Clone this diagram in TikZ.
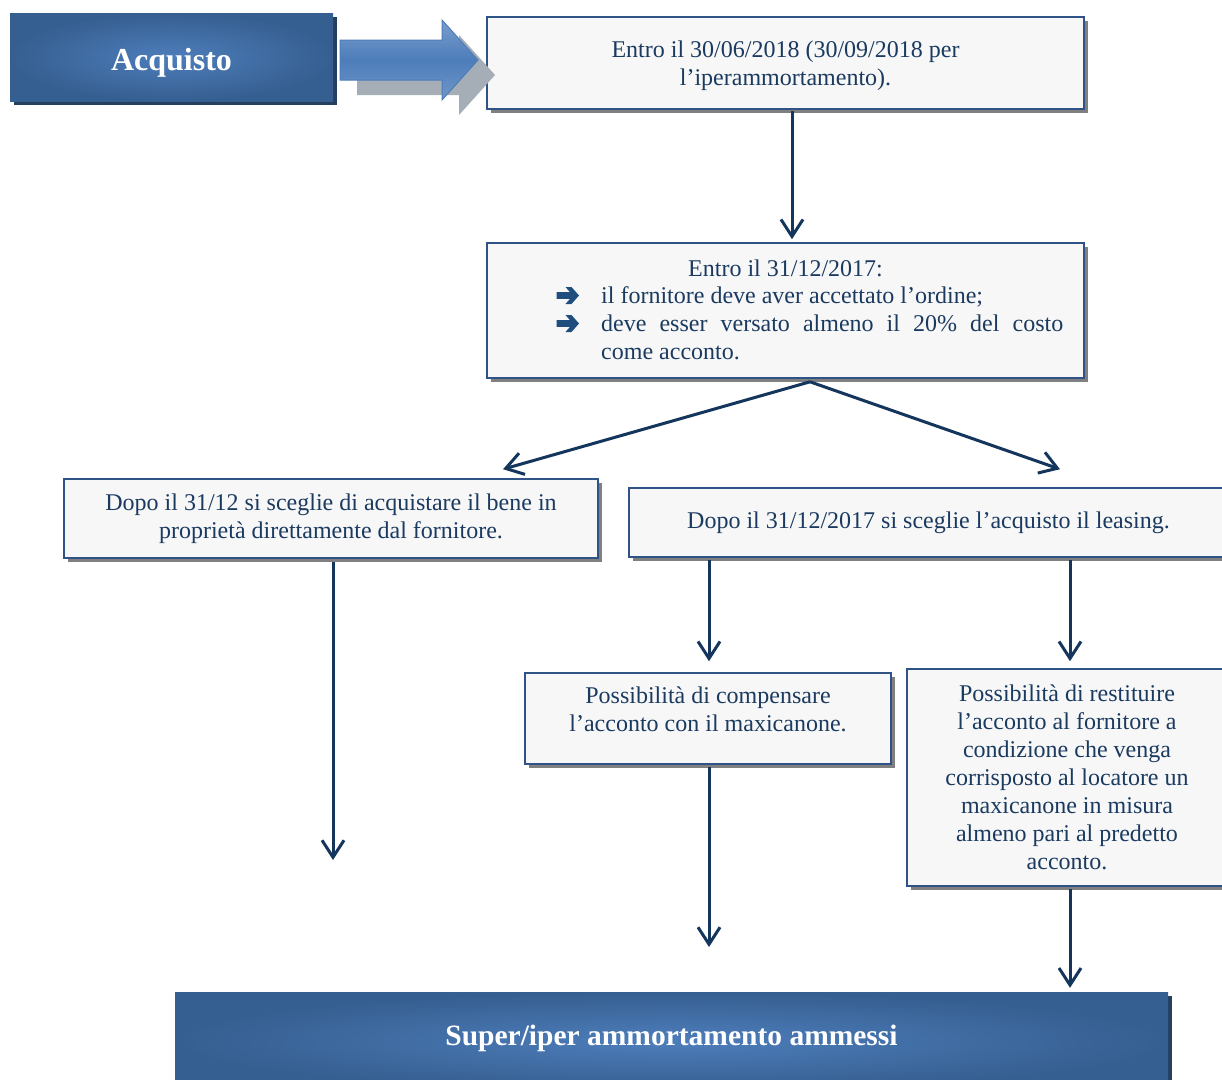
\documentclass[tikz,border=0pt]{standalone}
\usepackage{fontspec}
\setmainfont{Liberation Serif}
\usetikzlibrary{arrows.meta,shadows,calc}
\definecolor{navy}{HTML}{15365C}
\definecolor{navyb}{HTML}{1F4E7E}
\definecolor{txt}{HTML}{1A3A60}
\definecolor{bord}{HTML}{2F5386}
\definecolor{boxfill}{HTML}{F7F7F7}
\definecolor{shad}{HTML}{808080}
\definecolor{darkA}{HTML}{365F91}
\definecolor{lightA}{HTML}{4D7DBA}
\definecolor{darkshad}{HTML}{243F60}
\begin{document}
\begin{tikzpicture}[x=1pt,y=-1pt,
 box/.style={draw=bord, line width=1.6pt, fill=boxfill, inner sep=0pt, text=txt,
   font=\fontsize{24}{28}\selectfont, align=center,
   drop shadow={shadow xshift=4pt, shadow yshift=-4pt, fill=shad, opacity=1}},
 bluebox/.style={inner sep=0pt, text=white, inner color=lightA, outer color=darkA,
   drop shadow={shadow xshift=4pt, shadow yshift=-4pt, fill=darkshad, opacity=1}},
 plain/.style={inner sep=0pt, text=txt, font=\fontsize{24}{28}\selectfont},
 bularrow/.pic={\fill[navyb] (-11,-3.3) -- (2.5,-3.3) -- (-2,-8.5) -- (4,-8.5) -- (11.5,0) -- (4,8.5) -- (-2,8.5) -- (2.5,3.3) -- (-11,3.3) -- cycle;},
 arr/.style={draw=navy, line width=3pt, -{Straight Barb[length=17pt,width=22pt,line width=3pt]}}]
\clip (0,0) rectangle (1222,1079);
\fill[white] (0,0) rectangle (1222,1079);

% blue boxes
\node[bluebox, minimum width=323pt, minimum height=88pt, font=\bfseries\fontsize{32}{36}\selectfont]
  (acq) at (171.5,57) {\raisebox{-13pt}[0pt][0pt]{Acquisto}};
\node[bluebox, minimum width=993pt, minimum height=98pt, font=\bfseries\fontsize{29.5}{32}\selectfont]
  (fin) at (671.5,1041) {\raisebox{-4pt}[0pt][0pt]{Super/iper ammortamento ammessi}};

% white boxes
\node[box, minimum width=597pt, minimum height=92pt, text depth=0pt] (b1) at (785.5,63)
  {Entro il 30/06/2018 (30/09/2018 per\\ l’iperammortamento).};
\node[box, minimum width=597pt, minimum height=135pt] (b2) at (785.5,310.5) {};
\node[box, minimum width=534pt, minimum height=79pt] (b3) at (331,518.5)
  {Dopo il 31/12 si sceglie di acquistare il bene in\\ proprietà direttamente dal fornitore.};
\node[box, minimum width=599pt, minimum height=69pt] (b4) at (928.5,522.5)
  {Dopo il 31/12/2017 si sceglie l’acquisto il leasing.};
\node[box, minimum width=366pt, minimum height=91pt, text depth=19pt] (b5) at (708,718.5)
  {Possibilità di compensare\\ l’acconto con il maxicanone.};
\node[box, minimum width=320pt, minimum height=217pt] (b6) at (1067,777.5)
  {Possibilità di restituire\\ l’acconto al fornitore a\\ condizione che venga\\ corrisposto al locatore un\\ maxicanone in misura\\ almeno pari al predetto\\ acconto.};

% box 2 content
\node[plain, anchor=base] (t0) at (785.5,276) {Entro il 31/12/2017:};
\pic at (567.5,295.5) {bularrow};
\pic at (567.5,323.5) {bularrow};
\node[plain, anchor=base west] (t1) at (601,303) {il fornitore deve aver accettato l’ordine;};
\node[plain, anchor=base west] (t2) at (601,331) {\makebox[462pt][s]{deve esser versato almeno il 20\% del costo}};
\node[plain, anchor=base west] (t3) at (601,359) {come acconto.};

% block arrow with shadow
\fill[shad!70!darkA!60] (357,55) -- (459,55) -- (459,35) -- (495,75) -- (459,115) -- (459,95) -- (357,95) -- cycle;
\shade[top color=lightA!75!white, bottom color=lightA!80!white, middle color=lightA, draw=lightA, line width=1pt]
  (340,40) -- (442,40) -- (442,20) -- (478,60) -- (442,100) -- (442,80) -- (340,80) -- cycle;

% free ends
\coordinate (e3) at (333,860);
\coordinate (e5) at (709,947);

% connectors
\draw[arr] ($(b1.south)+(6.5,1)$) -- ($(b2.north)+(6.5,-3)$);
\draw[arr] ($(b2.south)+(24.5,3)$) -- ($(b3.north)+(172,-9)$);
\draw[arr] ($(b2.south)+(24.5,3)$) -- ($(b4.north)+(131.5,-18)$);
\draw[arr] ($(b4.south)+(-219.5,2)$) -- ($(b5.north)+(1,-11)$);
\draw[arr] ($(b4.south)+(141.5,2)$) -- ($(b6.north)+(3,-7)$);
\draw[arr] ($(b3.south)+(2,3)$) -- (e3);
\draw[arr] ($(b5.south)+(1,2)$) -- (e5);
\draw[arr] ($(b6.south)+(3,2)$) -- ($(fin.north)+(398.5,-4)$);
\end{tikzpicture}
\end{document}
